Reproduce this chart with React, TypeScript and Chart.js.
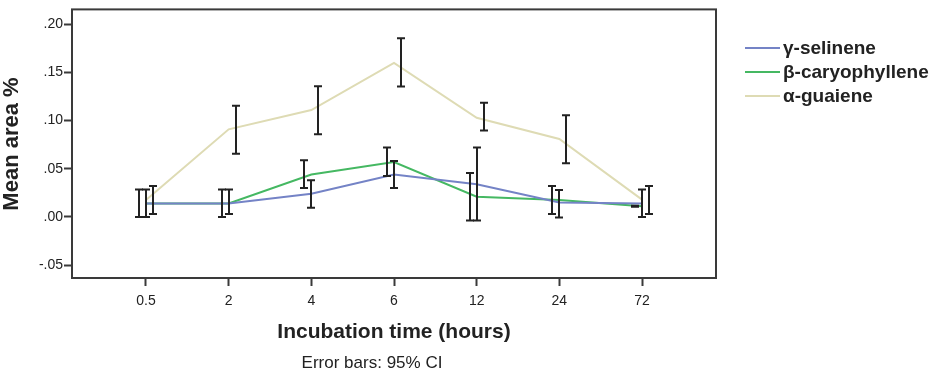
import React, { useEffect, useRef } from "react";
import { Chart, registerables } from "chart.js";

Chart.register(...registerables);

const timeLabels = ["0.5", "2", "4", "6", "12", "24", "72"];

const selineneMean = [0.014, 0.014, 0.024, 0.044, 0.034, 0.015, 0.014];
const selineneLo = [0.0, 0.003, 0.0096, 0.03, -0.0038, -0.0007, 0.0];
const selineneHi = [0.0285, 0.0285, 0.038, 0.058, 0.072, 0.028, 0.0285];

const caryophylleneMean = [0.014, 0.014, 0.044, 0.057, 0.021, 0.0175, 0.011];
const caryophylleneLo = [0.0, 0.0, 0.03, 0.0426, -0.0038, 0.003, 0.0105];
const caryophylleneHi = [0.0285, 0.0285, 0.0588, 0.072, 0.0457, 0.032, 0.0115];

const guaieneMean = [0.0175, 0.091, 0.111, 0.16, 0.103, 0.081, 0.018];
const guaieneLo = [0.003, 0.0657, 0.0859, 0.1354, 0.0897, 0.0557, 0.003];
const guaieneHi = [0.032, 0.1155, 0.1358, 0.1856, 0.1186, 0.1055, 0.032];

const yTicks = [-0.05, 0, 0.05, 0.1, 0.15, 0.2];

const seriesNames = ["γ-selinene", "β-caryophyllene", "α-guaiene"];
const seriesColors = ["#7483c6", "#45b862", "#dedbb4"];
const errOffsets = [0, -7, 7];

const FONT = "'Liberation Sans', Arial, sans-serif";

export default function App() {
  const ref = useRef<HTMLCanvasElement | null>(null);

  useEffect(() => {
    if (!ref.current) return;
    const means = [selineneMean, caryophylleneMean, guaieneMean];
    const los = [selineneLo, caryophylleneLo, guaieneLo];
    const his = [selineneHi, caryophylleneHi, guaieneHi];

    const decor = {
      id: "decor",
      afterDatasetsDraw(chart: any) {
        const { ctx, scales } = chart;
        const xs = scales.x;
        const ys = scales.y;
        ctx.save();
        ctx.strokeStyle = "#222";
        ctx.lineWidth = 2;
        for (let s = 0; s < 3; s++) {
          for (let i = 0; i < timeLabels.length; i++) {
            const x = Math.round(xs.getPixelForValue(i) + errOffsets[s]);
            const yl = ys.getPixelForValue(los[s][i]);
            const yh = ys.getPixelForValue(his[s][i]);
            ctx.beginPath();
            ctx.moveTo(x, yl);
            ctx.lineTo(x, yh);
            ctx.moveTo(x - 4, yl);
            ctx.lineTo(x + 4, yl);
            ctx.moveTo(x - 4, yh);
            ctx.lineTo(x + 4, yh);
            ctx.stroke();
          }
        }
        ctx.restore();
      },
      afterDraw(chart: any) {
        const { ctx, chartArea } = chart;
        ctx.save();
        ctx.strokeStyle = "#3a3a3a";
        ctx.lineWidth = 2;
        ctx.strokeRect(
          chartArea.left,
          chartArea.top,
          chartArea.right - chartArea.left,
          chartArea.bottom - chartArea.top
        );
        // legend
        ctx.font = `bold 19px ${FONT}`;
        ctx.textBaseline = "middle";
        ctx.textAlign = "left";
        for (let s = 0; s < 3; s++) {
          const y = 48 + s * 24;
          ctx.strokeStyle = seriesColors[s];
          ctx.lineWidth = 2;
          ctx.beginPath();
          ctx.moveTo(745, y);
          ctx.lineTo(780, y);
          ctx.stroke();
          ctx.fillStyle = "#222";
          ctx.fillText(seriesNames[s], 783, y + 1);
        }
        // axis titles
        ctx.fillStyle = "#222";
        ctx.textAlign = "center";
        ctx.font = `bold 21px ${FONT}`;
        ctx.fillText("Incubation time (hours)", (chartArea.left + chartArea.right) / 2, 332);
        ctx.font = `17px ${FONT}`;
        ctx.fillText("Error bars: 95% CI", 372, 363);
        ctx.translate(12, 144);
        ctx.rotate(-Math.PI / 2);
        ctx.font = `bold 22px ${FONT}`;
        ctx.fillText("Mean area %", 0, 0);
        ctx.restore();
      },
    };

    const chart = new Chart(ref.current, {
      type: "line",
      data: {
        datasets: means.map((m, s) => ({
          label: seriesNames[s],
          data: m.map((v, i) => ({ x: i, y: v })),
          borderColor: seriesColors[s],
          borderWidth: 2,
          pointRadius: 0,
          fill: false,
          tension: 0,
        })),
      },
      options: {
        animation: false,
        responsive: false,
        maintainAspectRatio: false,
        layout: { padding: { left: 0, top: 8, right: 220, bottom: 0 } },
        plugins: { legend: { display: false }, tooltip: { enabled: false } },
        scales: {
          x: {
            type: "linear",
            min: -0.895,
            max: 6.895,
            afterBuildTicks(scale: any) {
              scale.ticks = timeLabels.map((_, i) => ({ value: i }));
            },
            afterFit(scale: any) {
              scale.height = 97;
            },
            ticks: {
              autoSkip: false,
              maxRotation: 0,
              padding: 7,
              color: "#222",
              font: { family: FONT, size: 14 },
              callback: (v: any) => timeLabels[Math.round(Number(v))] ?? "",
            },
            grid: {
              drawOnChartArea: false,
              tickLength: 8,
              tickWidth: 2,
              tickColor: "#3a3a3a",
            },
            border: { display: false },
          },
          y: {
            type: "linear",
            min: -0.0634,
            max: 0.2155,
            afterBuildTicks(scale: any) {
              scale.ticks = yTicks.map((v) => ({ value: v }));
            },
            afterFit(scale: any) {
              scale.width = 72;
            },
            ticks: {
              padding: 1,
              color: "#222",
              font: { family: FONT, size: 14 },
              callback: (v: any) => Number(v).toFixed(2).replace("0.", "."),
            },
            grid: {
              drawOnChartArea: false,
              tickLength: 8,
              tickWidth: 2,
              tickColor: "#3a3a3a",
            },
            border: { display: false },
          },
        },
      },
      plugins: [decor],
    } as any);
    return () => chart.destroy();
  }, []);

  return (
    <div style={{ position: "absolute", left: 0, top: 0, width: 936, height: 375, background: "#fff" }}>
      <canvas ref={ref} width={936} height={375} style={{ width: 936, height: 375 }} />
    </div>
  );
}
